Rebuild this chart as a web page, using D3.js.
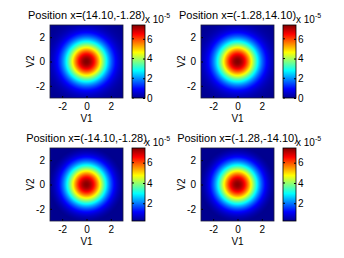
<!DOCTYPE html>
<html>
<head>
<meta charset="utf-8">
<script src="https://cdn.jsdelivr.net/npm/d3@7"></script>
<style>
  html, body { margin: 0; padding: 0; background: #fff; }
  svg text { font-family: "Liberation Sans", Arial, sans-serif; fill: #000; }
</style>
</head>
<body>
<div id="viz"></div>
<script>
// chart values (densities in units of 1e-5)
var titles = ["Position x=(14.10,-1.28)", "Position x=(-1.28,14.10)",
              "Position x=(-14.10,-1.28)", "Position x=(-1.28,-14.10)"];
var peakValues = [7.4, 7.4, 7.4, 7.4];
var spreads    = [1.18, 1.18, 1.18, 1.18];
var colorMin   = [0, 0, 0.25, 0.25];
var colorMax   = [7.4, 7.4, 7.45, 7.45];
var axisTicks  = [-2, 0, 2];
var colorTicks = [0, 2, 4, 6];
var axisDomain = [-3, 3];

var width = 344, height = 258;
var size = 73;
var colX = [50, 201], rowY = [25, 148];

// jet colormap like matlab
var jetStops = [0, 0.125, 0.375, 0.625, 0.875, 1];
var jetColors = ["#00008f", "#0000ff", "#00ffff", "#ffff00", "#ff0000", "#800000"];
var jet = d3.scaleLinear().domain(jetStops).range(jetColors).clamp(true);
// plain hyphen for negatives, like matlab
var fmt = function(d) { return String(d); };

var svg = d3.select("#viz").append("svg")
  .attr("width", width).attr("height", height);

var defs = svg.append("defs");
var grad = defs.append("linearGradient").attr("id", "jetgrad")
  .attr("x1", 0).attr("y1", 1).attr("x2", 0).attr("y2", 0);
grad.selectAll("stop").data(jetStops).enter().append("stop")
  .attr("offset", function(d) { return d; })
  .attr("stop-color", function(d, i) { return jetColors[i]; });

titles.forEach(function(title, k)
{
  var x0 = colX[k % 2], y0 = rowY[Math.floor(k / 2)];
  var g = svg.append("g").attr("transform", "translate(" + x0 + "," + y0 + ")");

  var x = d3.scaleLinear().domain(axisDomain).range([0, size]);
  var y = d3.scaleLinear().domain(axisDomain).range([size, 0]);
  var c = d3.scaleLinear().domain([colorMin[k], colorMax[k]]).range([size, 0]);

  // heat map drawn on a canvas, then placed with the scales
  var n = 146;
  var px = d3.scaleLinear().domain([0, n]).range(axisDomain);
  var canvas = document.createElement("canvas");
  canvas.width = n; canvas.height = n;
  var ctx = canvas.getContext("2d");
  var img = ctx.createImageData(n, n);
  for (var j = 0; j < n; j++)
  {
    for (var i = 0; i < n; i++)
    {
      var v1 = px(i + 0.5), v2 = -px(j + 0.5);
      var val = peakValues[k] * Math.exp(-(v1 * v1 + v2 * v2) / (2 * spreads[k] * spreads[k]));
      var t = (val - colorMin[k]) / (colorMax[k] - colorMin[k]);
      var col = d3.rgb(jet(t));
      var p = (j * n + i) * 4;
      img.data[p] = col.r; img.data[p + 1] = col.g; img.data[p + 2] = col.b; img.data[p + 3] = 255;
    }
  }
  ctx.putImageData(img, 0, 0);

  g.append("image")
    .attr("x", x(axisDomain[0])).attr("y", y(axisDomain[1]))
    .attr("width", x(axisDomain[1]) - x(axisDomain[0]))
    .attr("height", y(axisDomain[0]) - y(axisDomain[1]))
    .attr("preserveAspectRatio", "none")
    .attr("href", canvas.toDataURL());

  // axes
  var xa = g.append("g").attr("transform", "translate(0," + size + ")")
    .call(d3.axisBottom(x).tickValues(axisTicks).tickFormat(fmt)
      .tickSizeInner(-2).tickSizeOuter(0).tickPadding(5));
  var ya = g.append("g")
    .call(d3.axisLeft(y).tickValues(axisTicks).tickFormat(fmt)
      .tickSizeInner(-2).tickSizeOuter(0).tickPadding(5));
  [xa, ya].forEach(function(a)
  {
    a.select(".domain").remove();
    a.selectAll("line").attr("stroke", "#000");
    a.selectAll("text").style("font-size", "10px").attr("font-family", null);
  });
  g.append("rect").attr("width", size).attr("height", size)
    .attr("fill", "none").attr("stroke", "#1a1a3a").attr("stroke-width", 0.8);

  g.append("text").attr("x", size / 2).attr("y", -6)
    .attr("text-anchor", "middle").style("font-size", "11px").text(title);
  g.append("text").attr("x", size / 2).attr("y", size + 24)
    .attr("text-anchor", "middle").style("font-size", "10px").text("V1");
  g.append("text").attr("transform", "translate(-16," + size / 2 + ") rotate(-90)")
    .attr("text-anchor", "middle").style("font-size", "10px").text("V2");

  // colorbar
  var cb = g.append("g").attr("transform", "translate(" + (size + 9) + ",0)");
  cb.append("rect").attr("width", 13).attr("height", size).attr("fill", "url(#jetgrad)");
  var shown = colorTicks.filter(function(d) { return d >= colorMin[k] && d <= colorMax[k]; });
  var cbAxis = cb.append("g").attr("transform", "translate(13,0)")
    .call(d3.axisRight(c).tickValues(shown).tickFormat(fmt)
      .tickSizeInner(-2).tickSizeOuter(0).tickPadding(2));
  cbAxis.select(".domain").remove();
  cbAxis.selectAll("line").attr("stroke", "#000");
  cbAxis.selectAll("text").style("font-size", "10px").attr("font-family", null);
  cb.selectAll(".lt").data(shown).enter().append("line")
    .attr("x1", 0).attr("x2", 2)
    .attr("y1", function(d) { return c(d); }).attr("y2", function(d) { return c(d); })
    .attr("stroke", "#000");
  cb.append("rect").attr("width", 13).attr("height", size)
    .attr("fill", "none").attr("stroke", "#000").attr("stroke-width", 0.8);

  var ex = cb.append("text").attr("x", 13).attr("y", -2).style("font-size", "10px");
  ex.append("tspan").text("x 10");
  ex.append("tspan").attr("dy", -5).style("font-size", "7px").text("-5");
});
</script>
</body>
</html>
